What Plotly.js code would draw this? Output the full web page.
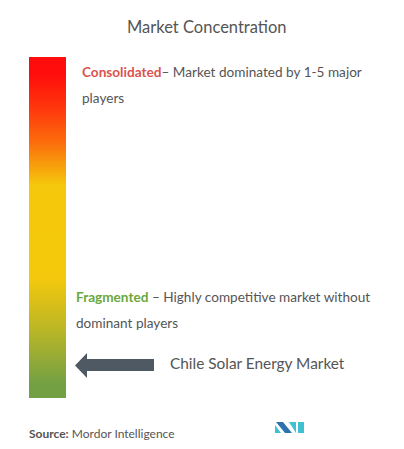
<!DOCTYPE html>
<html>
<head>
<meta charset="utf-8">
<script src="https://cdn.plot.ly/plotly-3.0.1.min.js"></script>
<style>
  html, body { margin: 0; padding: 0; background: #fff; }
  #chart { width: 404px; height: 449px; }
</style>
</head>
<body>
<div id="chart"></div>
<script>
// concentration scale, 0 = fragmented ... 10 = consolidated
const concentrationLevels = [0, 1, 2, 3, 4, 5, 6, 7, 8, 9, 10];
const barColumns = [0, 1];

const chartTitle = 'Market Concentration';
const consolidatedLabel = 'Consolidated';
const consolidatedText = ['– Market dominated by 1-5 major', 'players'];
const fragmentedLabel = 'Fragmented';
const fragmentedText = [' – Highly competitive market without', 'dominant players'];
const marketName = 'Chile Solar Energy Market';
const sourceLabel = 'Source:';
const sourceName = 'Mordor Intelligence';

// figure is 404 x 449, helpers to go from pixels to paper coords
const W = 404, H = 449;
const px = x => x / W;
const py = y => 1 - y / H;

const gray = '#555555';
const fontFamily = 'Lato, "Open Sans", sans-serif';

const gradient = [
    [0, '#74a044'],
    [0.17, '#b9b626'],
    [0.26, '#d9bf18'],
    [0.34, '#f4c90c'],
    [0.64, '#f5c80c'],
    [0.70, '#f7a00c'],
    [0.78, '#fc6c0c'],
    [0.88, '#ff3a0c'],
    [1, '#ff0c0c']
];

const bar = {
    type: 'heatmap',
    x: barColumns,
    y: concentrationLevels,
    z: concentrationLevels.map(v => barColumns.map(() => v)),
    colorscale: gradient,
    zsmooth: 'best',
    showscale: false,
    hoverinfo: 'skip'
};

function textNote(text, x, y, size, color, extra) {
    return Object.assign({
        text: text,
        xref: 'paper', yref: 'paper',
        x: px(x), y: py(y),
        xanchor: 'left', yanchor: 'middle',
        showarrow: false,
        font: { family: fontFamily, size: size, color: color }
    }, extra || {});
}

const annotations = [
    textNote(chartTitle, 207, 27, 16.5, gray, { xanchor: 'center' }),
    textNote('<b><span style="color:#d9534f">' + consolidatedLabel + '</span></b>' + consolidatedText[0], 80, 72, 13.6, gray),
    textNote(consolidatedText[1], 80, 98, 13.6, gray),
    textNote('<b><span style="color:#6aa83c">' + fragmentedLabel + '</span></b>' + fragmentedText[0], 74, 297, 13.6, gray),
    textNote(fragmentedText[1], 74, 323, 13.6, gray),
    textNote(marketName, 168, 363, 15.4, gray),
    textNote('<b>' + sourceLabel + '</b> ' + sourceName, 27, 433, 12, gray)
];

function path(points) {
    return 'M ' + points.map(p => px(p[0]) + ' ' + py(p[1])).join(' L ') + ' Z';
}

const shapes = [
    // arrow pointing at the bar
    {
        type: 'path', xref: 'paper', yref: 'paper',
        path: path([[75, 365.5], [87, 353], [87, 359], [154, 359], [154, 371], [87, 371], [87, 378]]),
        fillcolor: '#4f5964', line: { width: 0 }
    },
    // logo
    {
        type: 'path', xref: 'paper', yref: 'paper',
        path: path([[275, 425], [281, 433], [275, 433]]),
        fillcolor: '#3ec1d0', line: { width: 0 }
    },
    {
        type: 'path', xref: 'paper', yref: 'paper',
        path: path([[276, 422], [283, 422], [292, 433], [285, 433]]),
        fillcolor: '#2c73ad', line: { width: 0 }
    },
    {
        type: 'path', xref: 'paper', yref: 'paper',
        path: path([[289, 422], [296, 422], [296, 433]]),
        fillcolor: '#3ec1d0', line: { width: 0 }
    },
    {
        type: 'path', xref: 'paper', yref: 'paper',
        path: path([[298, 422], [304, 422], [304, 433], [298, 433]]),
        fillcolor: '#3ec1d0', line: { width: 0 }
    }
];

const layout = {
    width: W, height: H,
    margin: { t: 0, r: 0, b: 0, l: 0 },
    paper_bgcolor: '#fff',
    plot_bgcolor: '#fff',
    showlegend: false,
    xaxis: { domain: [px(29), px(66)], visible: false, fixedrange: true },
    yaxis: { domain: [py(398), py(57)], visible: false, fixedrange: true },
    annotations: annotations,
    shapes: shapes
};

Plotly.newPlot('chart', [bar], layout, { displayModeBar: false, staticPlot: true });
</script>
</body>
</html>
